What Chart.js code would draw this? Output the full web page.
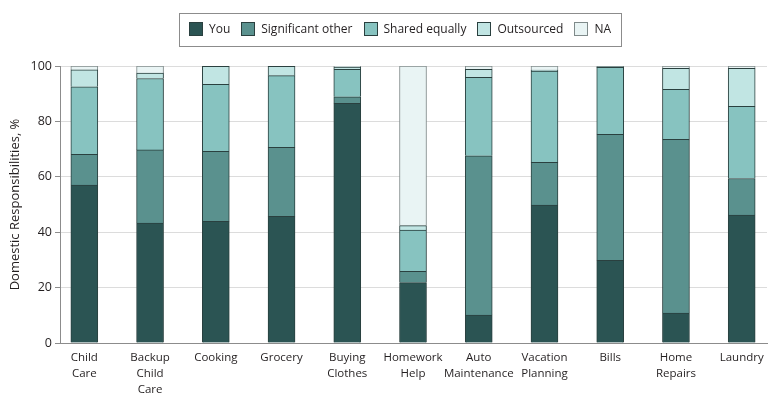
<!DOCTYPE html>
<html>
<head>
<meta charset="utf-8">
<script src="https://cdn.jsdelivr.net/npm/chart.js@4.4.1/dist/chart.umd.min.js"></script>
<style>
  html, body { margin: 0; padding: 0; background: #fff; }
  #wrap { width: 780px; height: 411px; }
</style>
</head>
<body>
<div id="wrap"><canvas id="chart"></canvas></div>
<script>
const categories = [
  ["Child", "Care"],
  ["Backup", "Child", "Care"],
  "Cooking",
  "Grocery",
  ["Buying", "Clothes"],
  ["Homework", "Help"],
  ["Auto", "Maintenance"],
  ["Vacation", "Planning"],
  "Bills",
  ["Home", "Repairs"],
  "Laundry",
];

// percent of respondents per category, bottom to top of each stack
const youValues = [57.0, 43.3, 43.9, 45.7, 86.5, 21.8, 10.1, 49.8, 29.8, 10.8, 46.2];
const otherValues = [11.1, 26.4, 25.3, 24.9, 2.4, 4.1, 57.5, 15.4, 45.5, 62.7, 13.2];
const sharedValues = [24.4, 25.8, 24.2, 25.9, 9.9, 14.9, 28.3, 33.0, 24.2, 18.1, 26.0];
const outsourcedValues = [6.1, 1.9, 6.5, 3.4, 0.8, 1.6, 2.9, 0.3, 0.3, 7.6, 13.8];
const naValues = [1.4, 2.6, 0.1, 0.1, 0.4, 57.6, 1.2, 1.5, 0.2, 0.8, 0.8];

const seriesNames = ["You", "Significant other", "Shared equally", "Outsourced", "NA"];
const seriesColors = ["#2b5453", "#5a918e", "#87c3c0", "#c1e5e3", "#e9f4f4"];
const yTicks = [0, 20, 40, 60, 80, 100];

const FONT = "'Open Sans', Lato, sans-serif";
const TEXT = "#231f20";

function toPoints(values) {
  return values.map((v, i) => ({ x: i, y: v }));
}

const allValues = [youValues, otherValues, sharedValues, outsourcedValues, naValues];

const datasets = allValues.map((values, k) => ({
  label: seriesNames[k],
  data: toPoints(values),
  backgroundColor: seriesColors[k],
  borderColor: k === 4 ? "#7f8a8a" : "#2a403f",
  borderWidth: 1,
  barThickness: 27,
}));

// legend drawn by hand so it can sit in a box like the original figure
const boxedLegend = {
  id: "boxedLegend",
  afterDraw(chart) {
    const ctx = chart.ctx;
    ctx.save();
    ctx.font = "12px " + FONT;
    const sw = 14, gap = 6, space = 11, padX = 10;
    const widths = seriesNames.map((n) => ctx.measureText(n).width);
    const total = widths.reduce((a, w) => a + sw + gap + w, 0) + space * (seriesNames.length - 1);
    let x = 400 - total / 2;
    const top = 13, bottom = 46, mid = 29.5;

    ctx.strokeStyle = "#8c8c8c";
    ctx.lineWidth = 1;
    ctx.strokeRect(Math.round(x - padX) + 0.5, top + 0.5, Math.round(total + 2 * padX), bottom - top);

    ctx.textBaseline = "middle";
    ctx.textAlign = "left";
    seriesNames.forEach((name, k) => {
      const bx = Math.round(x);
      ctx.fillStyle = seriesColors[k];
      ctx.fillRect(bx, 22, sw, sw);
      ctx.strokeStyle = k === 4 ? "#7f8a8a" : "#2a403f";
      ctx.strokeRect(bx + 0.5, 22.5, sw - 1, sw - 1);
      ctx.fillStyle = TEXT;
      ctx.fillText(name, x + sw + gap, mid);
      x += sw + gap + widths[k] + space;
    });
    ctx.restore();
  },
};

new Chart(document.getElementById("chart"), {
  type: "bar",
  data: { datasets },
  plugins: [boxedLegend],
  options: {
    responsive: true,
    maintainAspectRatio: false,
    animation: false,
    layout: { padding: { top: 66, right: 13, left: 0, bottom: 0 } },
    plugins: {
      legend: { display: false },
      tooltip: { enabled: false },
    },
    scales: {
      x: {
        type: "linear",
        stacked: true,
        offset: false,
        min: -0.37,
        max: 10.385,
        afterBuildTicks: (scale) => {
          scale.ticks = categories.map((_, i) => ({ value: i }));
        },
        afterFit: (scale) => {
          scale.height = 68;
        },
        grid: { display: false, drawTicks: false },
        border: { display: true, color: "#8c8c8c" },
        ticks: {
          autoSkip: false,
          maxRotation: 0,
          padding: 7,
          color: TEXT,
          font: { family: FONT, size: 11.5, lineHeight: 1.39 },
          callback: (v) => categories[v],
        },
      },
      y: {
        stacked: true,
        min: 0,
        max: 100,
        afterBuildTicks: (scale) => {
          scale.ticks = yTicks.map((v) => ({ value: v }));
        },
        afterFit: (scale) => {
          scale.width = 60;
        },
        grid: { color: "#dcdcdc", tickColor: "#8c8c8c", tickLength: 5 },
        border: { display: true, color: "#8c8c8c" },
        ticks: {
          padding: 3,
          color: TEXT,
          font: { family: FONT, size: 12.5 },
        },
        title: {
          display: true,
          text: "Domestic Responsibilities, %",
          color: TEXT,
          font: { family: FONT, size: 13 },
          padding: { top: 7, bottom: 0 },
        },
      },
    },
  },
});
</script>
</body>
</html>
